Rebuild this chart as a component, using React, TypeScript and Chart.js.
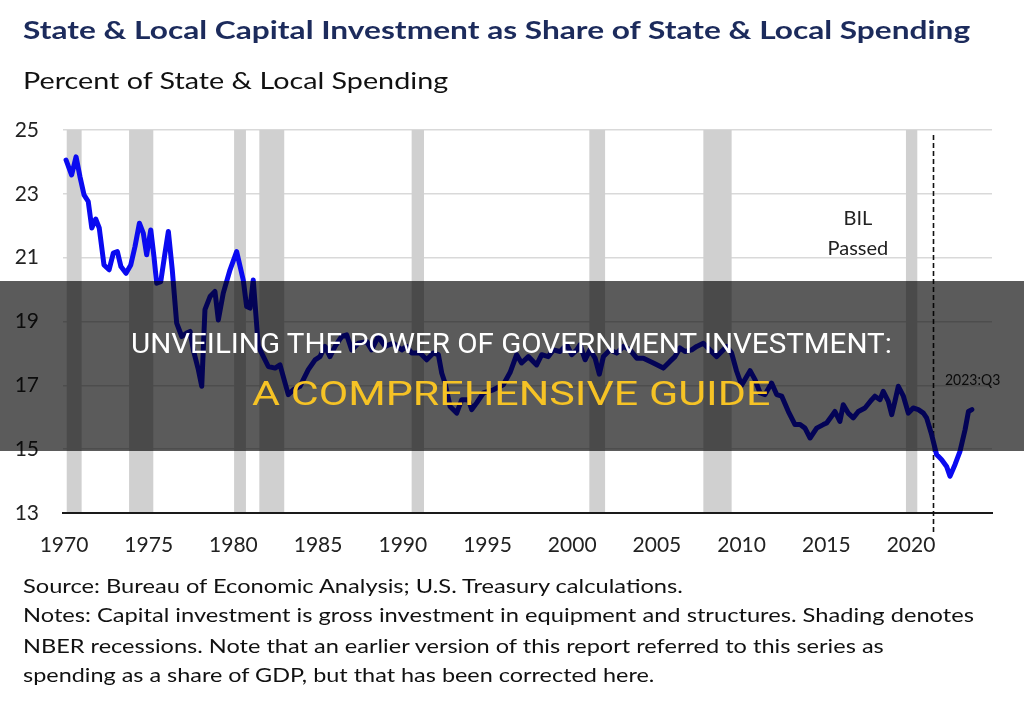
import React, { useEffect, useLayoutEffect, useRef } from "react";
import { Chart, registerables } from "chart.js";

Chart.register(...registerables);

// ---- Data ----
const years: number[] = [
  1970.12, 1970.45, 1970.71, 1970.94, 1971.18, 1971.43, 1971.64, 1971.87, 1972.08, 1972.36,
  1972.66, 1972.91, 1973.15, 1973.36, 1973.66, 1973.94, 1974.19, 1974.45, 1974.68, 1974.88,
  1975.12, 1975.31, 1975.47, 1975.71, 1975.96, 1976.16, 1976.39, 1976.65, 1976.95, 1977.24,
  1977.44, 1977.63, 1977.93, 1978.13, 1978.32, 1978.62, 1978.91, 1979.11, 1979.4, 1979.8,
  1980.19, 1980.58, 1980.78, 1980.98, 1981.17, 1981.47, 1981.77, 1982.06, 1982.46, 1982.75,
  1983.24, 1983.54, 1983.93, 1984.42, 1984.82, 1985.11, 1985.41, 1985.7, 1986.0, 1986.39,
  1986.69, 1986.98, 1987.37, 1987.87, 1988.16, 1988.55, 1988.95, 1989.44, 1989.94, 1990.23,
  1990.53, 1991.02, 1991.41, 1991.8, 1992.1, 1992.3, 1992.49, 1992.79, 1993.18, 1993.48,
  1993.87, 1994.07, 1994.36, 1994.75, 1995.34, 1995.93, 1996.33, 1996.72, 1997.01, 1997.41,
  1997.9, 1998.2, 1998.59, 1998.88, 1999.28, 1999.68, 1999.97, 2000.27, 2000.46, 2000.76,
  2001.05, 2001.35, 2001.6, 2001.84, 2002.23, 2002.63, 2003.02, 2003.41, 2003.81, 2004.2,
  2004.79, 2005.38, 2005.77, 2006.07, 2006.36, 2006.66, 2007.05, 2007.35, 2007.74, 2008.13,
  2008.53, 2008.82, 2009.12, 2009.41, 2009.7, 2010.0, 2010.3, 2010.5, 2010.79, 2011.09,
  2011.38, 2011.77, 2012.07, 2012.37, 2012.76, 2013.15, 2013.45, 2013.74, 2014.04, 2014.43,
  2014.82, 2015.02, 2015.31, 2015.51, 2015.8, 2016.0, 2016.29, 2016.59, 2016.89, 2017.28,
  2017.68, 2017.87, 2018.17, 2018.36, 2018.66, 2018.86, 2019.05, 2019.25, 2019.55, 2019.84,
  2020.13, 2020.43, 2020.73, 2020.92, 2021.22, 2021.51, 2021.81, 2022.1, 2022.3, 2022.6,
  2022.89, 2023.19, 2023.39, 2023.59,
];

const shares: number[] = [
  24.06, 23.59, 24.16, 23.54, 22.97, 22.76, 21.93, 22.21, 21.93, 20.77,
  20.62, 21.14, 21.19, 20.72, 20.51, 20.77, 21.35, 22.08, 21.77, 21.09,
  21.87, 21.03, 20.2, 20.25, 21.14, 21.82, 20.62, 18.95, 18.53, 18.64,
  18.69, 18.11, 17.49, 16.97, 19.37, 19.78, 19.94, 19.05, 19.89, 20.62,
  21.19, 20.3, 19.47, 19.42, 20.3, 18.22, 17.9, 17.59, 17.54, 17.64,
  16.71, 16.86, 16.97, 17.49, 17.8, 17.9, 18.22, 17.9, 18.22, 18.53,
  18.58, 18.11, 18.32, 18.37, 18.11, 18.53, 18.22, 18.32, 18.11, 18.22,
  18.01, 18.01, 17.8, 18.01, 17.96, 17.38, 17.07, 16.34, 16.13, 16.55,
  16.55, 16.24, 16.45, 16.76, 16.86, 17.02, 17.4, 17.96, 17.7, 17.9,
  17.64, 17.96, 17.9, 18.11, 18.06, 18.27, 17.96, 18.11, 18.27, 17.8,
  18.11, 17.85, 17.35, 17.9, 18.11, 18.01, 18.22, 18.11, 17.85, 17.85,
  17.7, 17.54, 17.75, 17.9, 18.17, 18.06, 18.11, 18.22, 18.32, 18.11,
  17.9, 18.06, 18.22, 18.01, 17.45, 17.0, 17.28, 17.46, 17.18, 16.76,
  16.71, 17.07, 16.71, 16.66, 16.18, 15.77, 15.77, 15.66, 15.35, 15.66,
  15.77, 15.82, 16.03, 16.18, 15.87, 16.39, 16.13, 15.98, 16.18, 16.29,
  16.55, 16.66, 16.55, 16.81, 16.5, 16.08, 16.5, 16.97, 16.66, 16.13,
  16.29, 16.24, 16.13, 15.98, 15.45, 14.83, 14.67, 14.46, 14.15, 14.52,
  14.93, 15.61, 16.18, 16.24,
];

const tickYears: number[] = [1970, 1975, 1980, 1985, 1990, 1995, 2000, 2005, 2010, 2015, 2020];
const yTicks: number[] = [13, 15, 17, 19, 21, 23, 25];

const recessionStarts: number[] = [1970.16, 1973.84, 1980.04, 1981.53, 1990.52, 2001.01, 2007.74, 2019.7];
const recessionEnds: number[] = [1971.04, 1975.27, 1980.74, 1983.0, 1991.25, 2001.94, 2009.41, 2020.37];

const bilPassed = 2021.28;

const TITLE = "State & Local Capital Investment as Share of State & Local Spending";
const SUBTITLE = "Percent of State & Local Spending";
const FOOT = [
  "Source: Bureau of Economic Analysis; U.S. Treasury calculations.",
  "Notes: Capital investment is gross investment in equipment and structures. Shading denotes",
  "NBER recessions. Note that an earlier version of this report referred to this series as",
  "spending as a share of GDP, but that has been corrected here.",
];
const OVER1 = "UNVEILING THE POWER OF GOVERNMENT INVESTMENT:";
const OVER2 = "A COMPREHENSIVE GUIDE";

const LATO = "Lato, 'Open Sans', sans-serif";
const ROBOTO = "Roboto, 'Noto Sans', sans-serif";

type TxtProps = {
  text: string;
  x: number;
  baseline: number;
  size: number;
  family: string;
  asc: number;
  weight?: number;
  color: string;
  width?: number;
  center?: boolean;
};

function Txt({ text, x, baseline, size, family, asc, weight = 400, color, width, center }: TxtProps) {
  const ref = useRef<HTMLSpanElement>(null);
  useLayoutEffect(() => {
    const el = ref.current;
    if (!el) return;
    const w = el.offsetWidth;
    if (width && w > 0) {
      el.style.transform = `scaleX(${width / w})`;
    } else if (center && w > 0) {
      el.style.left = `${x - w / 2}px`;
    }
  }, [text, width, size, x, center]);
  return (
    <span
      ref={ref}
      style={{
        position: "absolute",
        left: x,
        top: baseline - asc * size,
        fontFamily: family,
        fontSize: size,
        fontWeight: weight,
        color,
        lineHeight: 1,
        whiteSpace: "nowrap",
        transformOrigin: "left top",
        display: "inline-block",
      }}
    >
      {text}
    </span>
  );
}

const bandsPlugin = {
  id: "recessionBands",
  beforeDatasetsDraw(chart: any) {
    const { ctx, chartArea, scales } = chart;
    const xs = scales.x;
    ctx.save();
    ctx.fillStyle = "#d0d0d0";
    for (let i = 0; i < recessionStarts.length; i++) {
      const x0 = xs.getPixelForValue(recessionStarts[i]);
      const x1 = xs.getPixelForValue(recessionEnds[i]);
      ctx.fillRect(x0, chartArea.top, x1 - x0, chartArea.bottom - chartArea.top - 1);
    }
    const xb = Math.round(xs.getPixelForValue(bilPassed)) + 0.5;
    ctx.strokeStyle = "#111";
    ctx.lineWidth = 1.6;
    ctx.setLineDash([5, 3]);
    ctx.beginPath();
    ctx.moveTo(xb, chartArea.top + 5);
    ctx.lineTo(xb, chartArea.bottom + 20);
    ctx.stroke();
    ctx.restore();
  },
};

function LineChart() {
  const canvasRef = useRef<HTMLCanvasElement>(null);
  useEffect(() => {
    const canvas = canvasRef.current;
    if (!canvas) return;
    const points = years.map((x, i) => ({ x, y: shares[i] }));
    const tickFont = { family: LATO, size: 21 };
    const chart = new Chart(canvas, {
      type: "line",
      data: {
        datasets: [
          {
            data: points,
            borderColor: "#0a0af0",
            borderWidth: 5,
            pointRadius: 0,
            tension: 0,
            borderJoinStyle: "round",
            borderCapStyle: "round",
            fill: false,
          },
        ],
      },
      options: {
        animation: false,
        responsive: false,
        maintainAspectRatio: false,
        devicePixelRatio: 1,
        parsing: false,
        layout: { padding: { top: 130, right: 32, bottom: 137, left: 0 } },
        plugins: {
          legend: { display: false },
          tooltip: { enabled: false },
          title: { display: false },
        },
        scales: {
          x: {
            type: "linear",
            min: 1969.94,
            max: 2024.78,
            afterBuildTicks: (s: any) => {
              s.ticks = tickYears.map((v) => ({ value: v }));
            },
            afterFit: (s: any) => {
              s.height = 60;
            },
            grid: { display: true, color: "rgba(0,0,0,0)", drawTicks: false },
            border: { display: true, color: "#1a1a1a", width: 2 },
            ticks: {
              padding: 20,
              font: tickFont,
              color: "#222",
              maxRotation: 0,
              autoSkip: false,
              callback: (v: any) => String(v),
            },
          },
          y: {
            type: "linear",
            min: 13,
            max: 25,
            afterBuildTicks: (s: any) => {
              s.ticks = yTicks.map((v) => ({ value: v }));
            },
            afterFit: (s: any) => {
              s.width = 63;
            },
            grid: { color: "#d9d9d9", lineWidth: 1.5, drawTicks: false },
            border: { display: false },
            ticks: { padding: 24, font: tickFont, color: "#222" },
          },
        },
      },
      plugins: [bandsPlugin],
    } as any);
    return () => chart.destroy();
  }, []);
  return (
    <canvas
      ref={canvasRef}
      width={1024}
      height={710}
      style={{ position: "absolute", left: 0, top: 0, width: 1024, height: 710 }}
    />
  );
}

export default function App() {
  const footBase = [592.7, 622, 653, 682];
  const footWidths = [660, 951, 861, 631];
  return (
    <div
      style={{
        position: "absolute",
        left: 0,
        top: 0,
        width: 1024,
        height: 710,
        background: "#fff",
        overflow: "hidden",
      }}
    >
      <LineChart />
      <Txt text={TITLE} x={23} baseline={39.5} size={25} family={LATO} asc={0.887} weight={700} color="#1c2b5c" width={947} />
      <Txt text={SUBTITLE} x={23} baseline={89.5} size={24} family={LATO} asc={0.887} color="#111" width={425} />
      <Txt text="BIL" x={858} baseline={225} size={20} family={LATO} asc={0.887} color="#222" center />
      <Txt text="Passed" x={858} baseline={255} size={20} family={LATO} asc={0.887} color="#222" center />
      <Txt text="2023:Q3" x={945} baseline={385} size={15} family={LATO} asc={0.887} color="#222" width={55} />
      {FOOT.map((t, i) => (
        <Txt key={i} text={t} x={23} baseline={footBase[i]} size={19} family={LATO} asc={0.887} color="#111" width={footWidths[i]} />
      ))}
      <div
        style={{
          position: "absolute",
          left: 0,
          top: 281,
          width: 1024,
          height: 170,
          background: "rgba(0,0,0,0.645)",
        }}
      />
      <Txt text={OVER1} x={131} baseline={353.3} size={28} family={ROBOTO} asc={0.842} color="#ffffff" width={761} />
      <Txt text={OVER2} x={252} baseline={405} size={33} family={ROBOTO} asc={0.842} color="#f6c325" width={518} />
    </div>
  );
}
